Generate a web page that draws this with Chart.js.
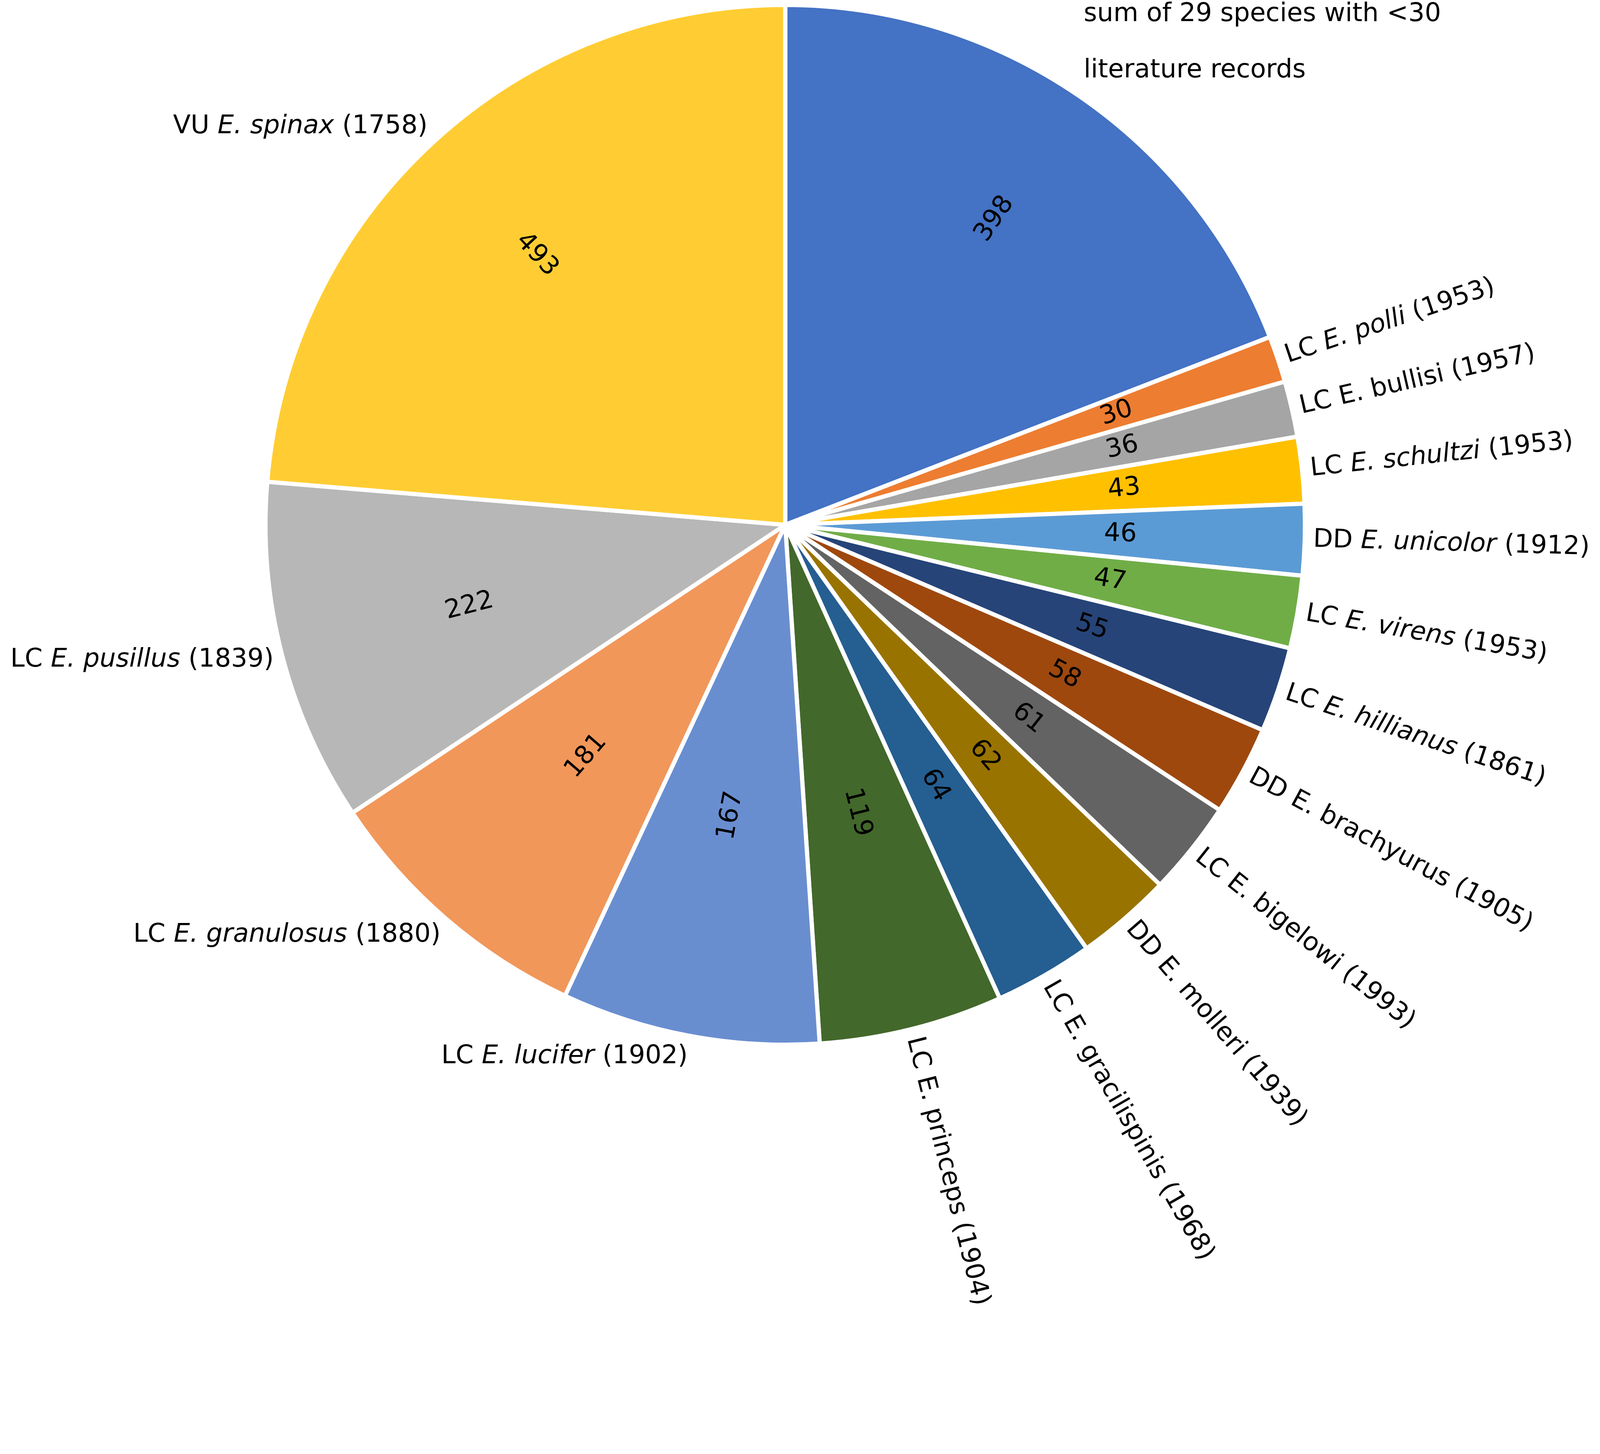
<!DOCTYPE html>
<html>
<head>
<meta charset="utf-8">
<title>Literature records per species</title>
<script src="https://cdn.jsdelivr.net/npm/chart.js@4.4.1/dist/chart.umd.min.js"></script>
<style>
  html, body { margin: 0; padding: 0; background: #ffffff; overflow: hidden; }
  #pie { display: block; }
</style>
</head>
<body>
<canvas id="pie"></canvas>
<script>
// slice labels, clockwise from 12 o'clock; text between _ _ is set in italics, \n wraps
const categories = [
    'sum of 29 species with <30\nliterature records',
    'LC _E. polli_ (1953)',
    'LC E. bullisi (1957)',
    'LC _E. schultzi_ (1953)',
    'DD _E. unicolor_ (1912)',
    'LC _E. virens_ (1953)',
    'LC _E. hillianus_ (1861)',
    'DD E. brachyurus (1905)',
    'LC E. bigelowi (1993)',
    'DD E. molleri (1939)',
    'LC E. gracilispinis (1968)',
    'LC E. princeps (1904)',
    'LC _E. lucifer_ (1902)',
    'LC _E. granulosus_ (1880)',
    'LC _E. pusillus_ (1839)',
    'VU _E. spinax_ (1758)'
];

const records = [398, 30, 36, 43, 46, 47, 55, 58, 61, 62, 64, 119, 167, 181, 222, 493];

const sliceColors = [
    '#4472C4', '#ED7D31', '#A5A5A5', '#FFC000', '#5B9BD5', '#70AD47',
    '#264478', '#9E480E', '#636363', '#997300', '#255E91', '#43682B',
    '#698ED0', '#F1975A', '#B7B7B7', '#FFCD33'
];

// layout measured on the 4550 x 3721 picture, scaled to the css viewport below
const W = 4550, H = 3721;
const cssW = window.innerWidth, cssH = window.innerHeight;
const k = cssW / W;

const CX = 2233 * k, CY = 1492 * k, PIE_R = 1472 * k;
const BORDER = 12 * k;
const FONT_PX = 73 * k;
const FONT_FAMILY = "'DejaVu Sans', Verdana, sans-serif";
const LINE_GAP = 160 * k;
const LABEL_GAP = 30 * k;

function fontFor(italic) {
    return (italic ? 'italic ' : '') + FONT_PX + 'px ' + FONT_FAMILY;
}

function parseRich(str) {
    return str.split('_')
        .map((t, n) => ({ text: t, italic: n % 2 === 1 }))
        .filter(s => s.text.length);
}

function richWidth(ctx, segs) {
    let w = 0;
    segs.forEach(s => {
        ctx.font = fontFor(s.italic);
        w += ctx.measureText(s.text).width;
    });
    return w;
}

function drawRich(ctx, segs, x, y, align) {
    const w = richWidth(ctx, segs);
    let cx = align === 'right' ? x - w : (align === 'center' ? x - w / 2 : x);
    ctx.textAlign = 'left';
    segs.forEach(s => {
        ctx.font = fontFor(s.italic);
        ctx.fillText(s.text, cx, y);
        cx += ctx.measureText(s.text).width;
    });
}

// keep text upright: fold the angle into (-90deg, 90deg]
function upright(a) {
    while (a > Math.PI / 2) a -= Math.PI;
    while (a <= -Math.PI / 2) a += Math.PI;
    return a;
}

const sliceLabels = {
    id: 'sliceLabels',
    afterDatasetsDraw(chart) {
        const ctx = chart.ctx;
        const meta = chart.getDatasetMeta(0);
        ctx.save();
        ctx.fillStyle = '#000000';
        ctx.textBaseline = 'middle';

        meta.data.forEach((arc, i) => {
            const p = arc.getProps(['x', 'y', 'startAngle', 'endAngle', 'outerRadius'], true);
            const mid = (p.startAngle + p.endAngle) / 2;
            const span = p.endAngle - p.startAngle;
            const dx = Math.cos(mid), dy = Math.sin(mid);
            const rEdge = p.outerRadius - BORDER / 2;
            const rot = upright(mid);

            // value inside the slice, along the radius (sits a bit higher, like Excel)
            const rv = rEdge * (0.65 - 0.08 * dy);
            ctx.save();
            ctx.translate(p.x + dx * rv, p.y + dy * rv);
            ctx.rotate(rot);
            ctx.font = fontFor(false);
            ctx.textAlign = 'center';
            ctx.fillText(String(records[i]), 0, 0);
            ctx.restore();

            const lines = categories[i].split('\n');
            const d = rEdge + LABEL_GAP;

            if (span < 25 * Math.PI / 180) {
                // narrow slice: name runs outward along the radius
                ctx.save();
                ctx.translate(p.x + dx * d, p.y + dy * d);
                ctx.rotate(rot);
                drawRich(ctx, parseRich(lines[0]), 0, 0, rot === mid ? 'left' : 'right');
                ctx.restore();
            } else {
                // wide slice: horizontal name outside the rim
                const px = p.x + dx * d, py = p.y + dy * d;
                const boxH = lines.length === 1 ? FONT_PX : lines.length * LINE_GAP;
                const boxMid = py + dy * boxH / 2;
                const align = dx < 0 ? 'right' : 'left';
                lines.forEach((ln, n) => {
                    const ly = boxMid + LINE_GAP * (n - (lines.length - 1) / 2);
                    drawRich(ctx, parseRich(ln), px, ly, align);
                });
            }
        });
        ctx.restore();
    }
};

const canvas = document.getElementById('pie');
canvas.width = cssW;
canvas.height = cssH;
canvas.style.width = cssW + 'px';
canvas.style.height = cssH + 'px';

const half = PIE_R + BORDER;

new Chart(canvas.getContext('2d'), {
    type: 'pie',
    data: {
        labels: categories,
        datasets: [{
            data: records,
            backgroundColor: sliceColors,
            borderColor: '#ffffff',
            borderWidth: BORDER
        }]
    },
    options: {
        responsive: false,
        devicePixelRatio: window.devicePixelRatio || 1,
        animation: false,
        rotation: 0,
        layout: {
            padding: {
                left: CX - half,
                top: CY - half,
                right: cssW - CX - half,
                bottom: cssH - CY - half
            }
        },
        plugins: {
            legend: { display: false },
            tooltip: { enabled: false }
        }
    },
    plugins: [sliceLabels]
});
</script>
</body>
</html>
